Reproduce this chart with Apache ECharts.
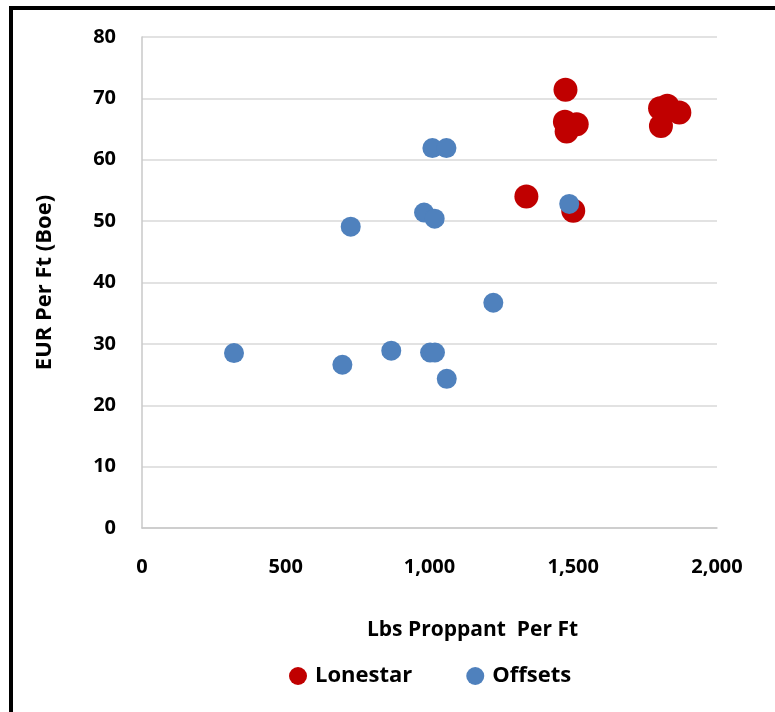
<!DOCTYPE html>
<html>
<head>
<meta charset="utf-8">
<script src="https://cdn.jsdelivr.net/npm/echarts@6/dist/echarts.min.js"></script>
<style>
    html, body { margin: 0; padding: 0; background: #fff; }
    #chart { width: 775px; height: 712px; }
</style>
</head>
<body>
<div id="chart"></div>
<script>
// Lonestar wells: [lbs proppant per ft, EUR per ft]
var lonestarPoints = [
    [1473, 71.4], [1471, 66.2], [1512, 65.8], [1477, 64.6],
    [1802, 68.4], [1827, 68.8], [1869, 67.7], [1805, 65.5],
    [1500, 51.7], [1337, 54.0]
];
// Offset wells
var offsetPoints = [
    [320, 28.5], [697, 26.6], [726, 49.1], [867, 28.9],
    [981, 51.4], [1018, 50.4], [1010, 61.9], [1059, 61.9],
    [1002, 28.6], [1019, 28.6], [1060, 24.3], [1222, 36.7],
    [1486, 52.8]
];
var seriesNames = ['Lonestar', 'Offsets'];
var seriesColors = ['#C00000', '#4F81BD'];

var font = '"Open Sans", Lato, sans-serif';
var chart = echarts.init(document.getElementById('chart'), null, { renderer: 'canvas' });

var option = {
    animation: false,
    backgroundColor: '#fff',
    textStyle: { fontFamily: font },
    graphic: [{
        type: 'rect',
        shape: { x: 11, y: 8, width: 1000, height: 1000 },
        style: { fill: 'none', stroke: '#000', lineWidth: 4 },
        z: 100
    }],
    grid: { left: 142, right: 58, top: 37, bottom: 184 },
    legend: {
        data: seriesNames,
        top: 660,
        left: 284,
        icon: 'circle',
        itemWidth: 18,
        itemHeight: 18,
        itemGap: 54,
        textStyle: { fontSize: 22, fontWeight: 'bold', color: '#000', fontFamily: font, padding: [0, 0, 0, 3] }
    },
    xAxis: {
        type: 'value',
        min: 0,
        max: 2000,
        interval: 500,
        name: 'Lbs Proppant  Per Ft',
        nameLocation: 'middle',
        nameGap: 92,
        nameTextStyle: { fontSize: 21, fontWeight: 'bold', color: '#000', padding: [0, 0, 0, 86] },
        axisLine: { show: true, lineStyle: { color: '#c8c8c8', width: 1.5 } },
        axisTick: { show: false },
        splitLine: { show: false },
        axisLabel: {
            margin: 29, fontSize: 20, fontWeight: 'bold', color: '#000',
            formatter: function (v) { return v.toLocaleString('en-US'); }
        }
    },
    yAxis: {
        type: 'value',
        min: 0,
        max: 80,
        interval: 10,
        name: 'EUR Per Ft (Boe)',
        nameLocation: 'middle',
        nameGap: 86,
        nameTextStyle: { fontSize: 22, fontWeight: 'bold', color: '#000' },
        axisLine: { show: true, lineStyle: { color: '#c8c8c8', width: 1.5 } },
        axisTick: { show: false },
        splitLine: { show: true, lineStyle: { color: '#d9d9d9', width: 1.5 } },
        axisLabel: { margin: 26, fontSize: 20, fontWeight: 'bold', color: '#000' }
    },
    series: [
        {
            name: seriesNames[0],
            type: 'scatter',
            data: lonestarPoints,
            symbolSize: 24,
            itemStyle: { color: seriesColors[0], opacity: 1 }
        },
        {
            name: seriesNames[1],
            type: 'scatter',
            data: offsetPoints,
            symbolSize: 20,
            itemStyle: { color: seriesColors[1], opacity: 1 }
        }
    ]
};
chart.setOption(option);
</script>
</body>
</html>
